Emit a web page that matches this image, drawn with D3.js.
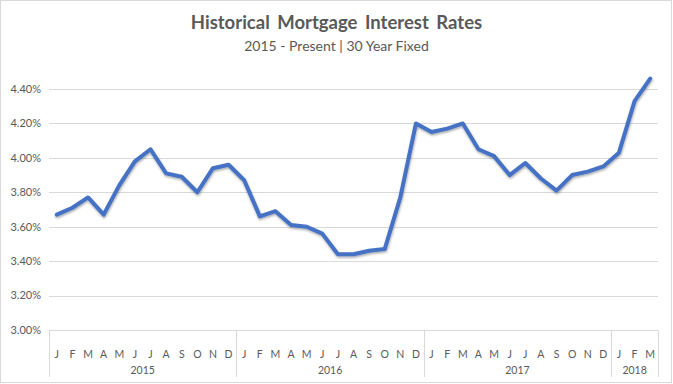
<!DOCTYPE html>
<html>
<head>
<meta charset="utf-8">
<script src="https://d3js.org/d3.v7.min.js"></script>
<style>
  body { margin: 0; background: #fff; }
  svg text { font-family: Lato, "Open Sans", sans-serif; fill: #595959; }
</style>
</head>
<body>
<div id="chart"></div>
<script>
// monthly 30 year fixed rates, Jan 2015 - Mar 2018
var years = ["2015", "2016", "2017", "2018"];
var monthLetters = ["J", "F", "M", "A", "M", "J", "J", "A", "S", "O", "N", "D"];
var monthsPerYear = [12, 12, 12, 3];
var rates2015 = [3.67, 3.71, 3.77, 3.67, 3.84, 3.98, 4.05, 3.91, 3.89, 3.80, 3.94, 3.96];
var rates2016 = [3.87, 3.66, 3.69, 3.61, 3.60, 3.56, 3.44, 3.44, 3.46, 3.47, 3.77, 4.20];
var rates2017 = [4.15, 4.17, 4.20, 4.05, 4.01, 3.90, 3.97, 3.88, 3.81, 3.90, 3.92, 3.95];
var rates2018 = [4.03, 4.33, 4.46];
var yTicks = [3.0, 3.2, 3.4, 3.6, 3.8, 4.0, 4.2, 4.4];

var width = 673, height = 384;
var margin = {top: 89, right: 15, bottom: 54, left: 49};

// flatten into one row per month
var data = [];
[rates2015, rates2016, rates2017, rates2018].forEach(function (arr, yi) {
  arr.forEach(function (v, mi) {
    data.push({key: years[yi] + "-" + mi, year: years[yi], month: monthLetters[mi], value: v});
  });
});

var svg = d3.select("#chart").append("svg")
  .attr("width", width)
  .attr("height", height);

// shadow under the line
var filt = svg.append("defs").append("filter")
  .attr("id", "shadow")
  .attr("x", "-5%").attr("y", "-5%")
  .attr("width", "110%").attr("height", "120%");
filt.append("feDropShadow")
  .attr("dx", 0.5).attr("dy", 1.5)
  .attr("stdDeviation", 1.2)
  .attr("flood-color", "#000")
  .attr("flood-opacity", 0.35);

svg.append("rect")
  .attr("x", 0.5).attr("y", 0.5)
  .attr("width", width - 2).attr("height", height - 2)
  .attr("fill", "#fff")
  .attr("stroke", "#d9d9d9");

var x = d3.scaleBand()
  .domain(data.map(function (d) { return d.key; }))
  .range([margin.left, width - margin.right]);

var y = d3.scaleLinear()
  .domain([3.0, 4.4])
  .range([height - margin.bottom, margin.top]);

// gridlines
svg.append("g")
  .selectAll("line")
  .data(yTicks.slice(1))
  .enter().append("line")
  .attr("x1", margin.left)
  .attr("x2", width - margin.right)
  .attr("y1", function (d) { return Math.round(y(d)) + 0.5; })
  .attr("y2", function (d) { return Math.round(y(d)) + 0.5; })
  .attr("stroke", "#d9d9d9")
  .attr("stroke-width", 1);

// y tick labels
svg.append("g")
  .selectAll("text")
  .data(yTicks)
  .enter().append("text")
  .attr("x", margin.left - 8)
  .attr("y", function (d) { return y(d); })
  .attr("dy", "0.35em")
  .attr("text-anchor", "end")
  .style("font-size", "11px")
  .text(function (d) { return d3.format(".2f")(d) + "%"; });

// x axis (two levels: months, years)
var axisY = Math.round(y(3.0)) + 0.5;
var axis = svg.append("g");
axis.append("line")
  .attr("x1", margin.left).attr("x2", width - margin.right)
  .attr("y1", axisY).attr("y2", axisY)
  .attr("stroke", "#d9d9d9");

axis.selectAll(".month")
  .data(data)
  .enter().append("text")
  .attr("class", "month")
  .attr("x", function (d) { return x(d.key) + x.bandwidth() / 2; })
  .attr("y", 358)
  .attr("text-anchor", "middle")
  .style("font-size", "10.5px")
  .text(function (d) { return d.month; });

// year group boundaries
var bounds = [0];
monthsPerYear.forEach(function (n, i) { bounds.push(bounds[i] + n); });
var edgeX = function (i) {
  return i < data.length ? x(data[i].key) : x(data[data.length - 1].key) + x.bandwidth();
};
axis.selectAll(".sep")
  .data(bounds)
  .enter().append("line")
  .attr("class", "sep")
  .attr("x1", function (i) { return Math.round(edgeX(i)) + 0.5; })
  .attr("x2", function (i) { return Math.round(edgeX(i)) + 0.5; })
  .attr("y1", axisY)
  .attr("y2", 377)
  .attr("stroke", "#d9d9d9");

axis.selectAll(".year")
  .data(years)
  .enter().append("text")
  .attr("class", "year")
  .attr("x", function (d, i) { return (edgeX(bounds[i]) + edgeX(bounds[i + 1])) / 2; })
  .attr("y", 374)
  .attr("text-anchor", "middle")
  .style("font-size", "10.5px")
  .text(function (d) { return d; });

// the series line
var line = d3.line()
  .x(function (d) { return x(d.key) + x.bandwidth() / 2; })
  .y(function (d) { return y(d.value); });

svg.append("path")
  .datum(data)
  .attr("d", line)
  .attr("fill", "none")
  .attr("stroke", "#4472c4")
  .attr("stroke-width", 4)
  .attr("stroke-linejoin", "round")
  .attr("stroke-linecap", "round")
  .attr("filter", "url(#shadow)");

// titles
svg.append("text")
  .attr("x", width / 2)
  .attr("y", 29)
  .attr("text-anchor", "middle")
  .style("font-size", "18.5px")
  .style("font-weight", "bold")
  .style("word-spacing", "3px")
  .text("Historical Mortgage Interest Rates");

svg.append("text")
  .attr("x", width / 2)
  .attr("y", 51)
  .attr("text-anchor", "middle")
  .style("font-size", "14px")
  .text("2015 - Present | 30 Year Fixed");
</script>
</body>
</html>
